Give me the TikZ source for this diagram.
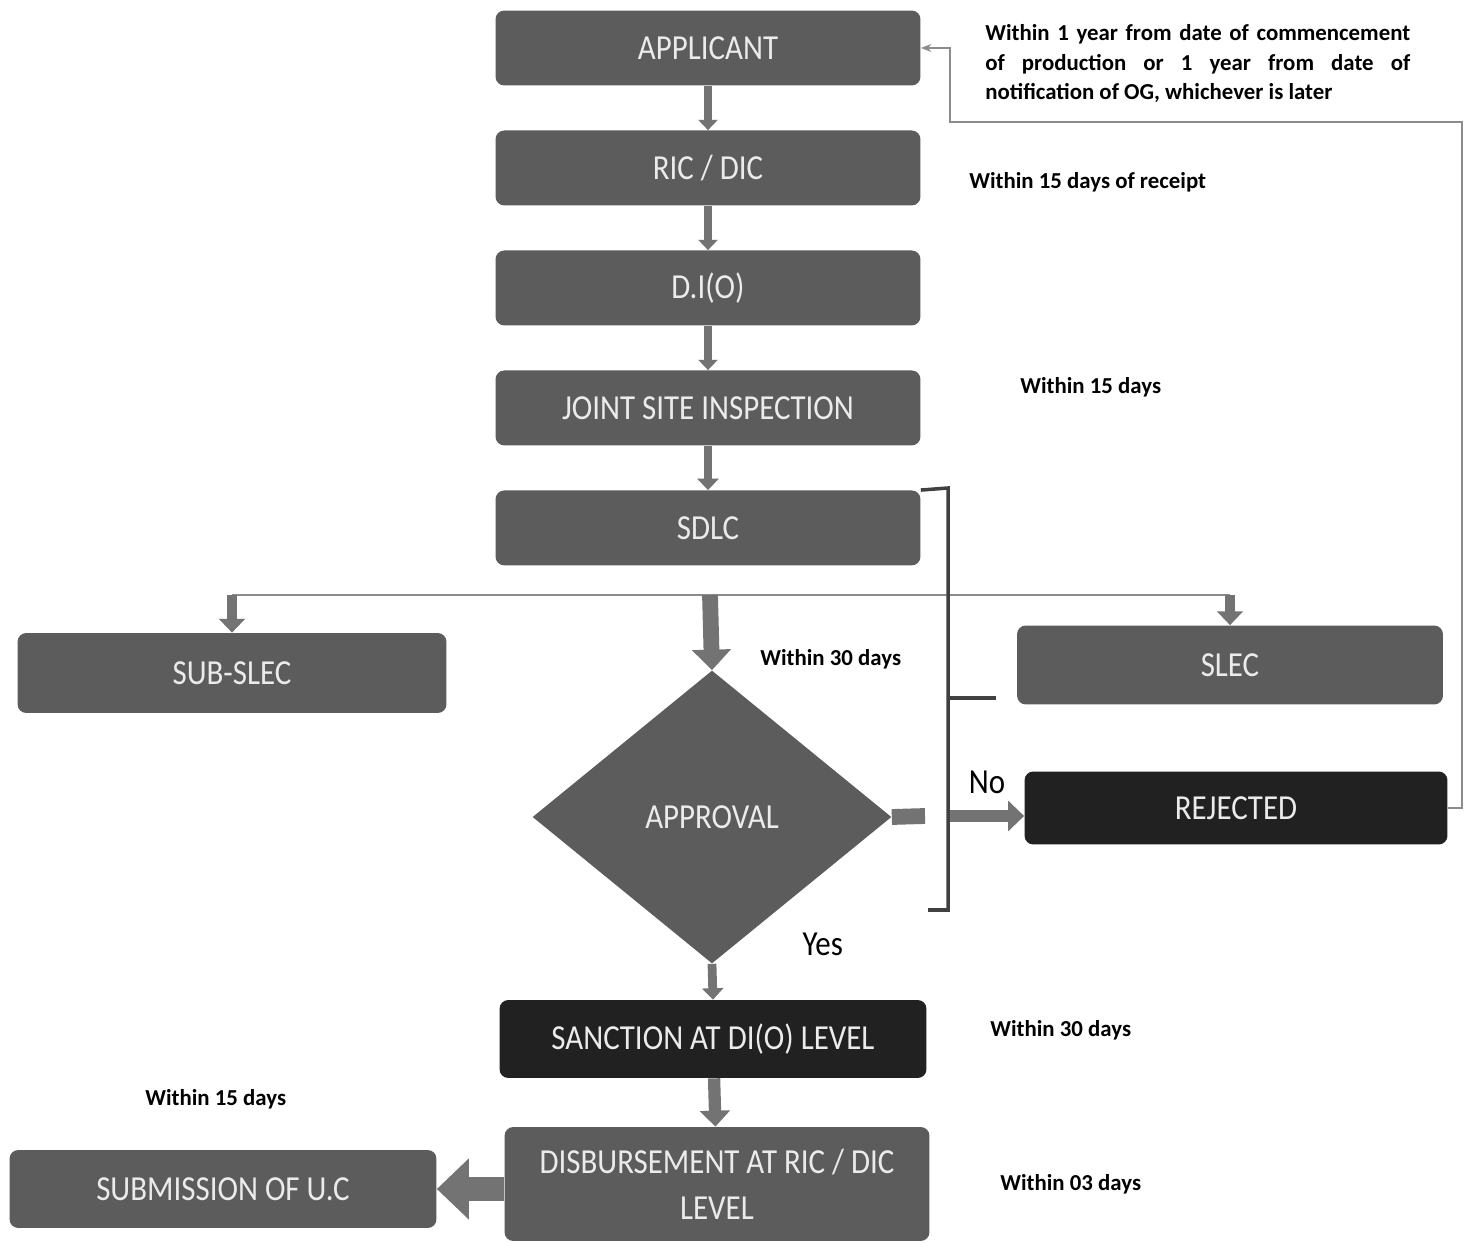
\documentclass[tikz,border=0pt]{standalone}
\usepackage{fontspec}
\setmainfont{Carlito}
\newfontfamily\boxfont{Carlito}[FakeStretch=0.88]
\usepackage{tikz}
\usetikzlibrary{shapes,arrows.meta,positioning,calc}
\definecolor{boxgray}{gray}{0.36}
\definecolor{darkbox}{gray}{0.13}
\definecolor{arrowgray}{gray}{0.45}
\definecolor{linegray}{gray}{0.55}
\definecolor{labelwhite}{gray}{0.92}

\begin{document}
\begin{tikzpicture}[x=0.02cm, y=-0.02cm, node distance=2.4cm,
  stage/.style={rectangle, fill=boxgray, text=labelwhite, minimum width=8.5cm, minimum height=1.5cm, rounded corners=5pt, align=center, font=\boxfont\fontsize{20}{26}\selectfont},
  note/.style={anchor=west, inner sep=0pt, font=\bfseries\fontsize{13}{16.8}\selectfont},
  flow/.style={draw=arrowgray, line width=#1, -{Triangle[length=0pt 1.3, width=0pt 2.4]}},
  thinline/.style={draw=linegray, line width=1pt},
  bracketline/.style={draw=black!75, line width=2pt}]
\useasboundingbox (0,0) rectangle (1468,1243);
% main column
\node[stage] (app) at (708,48) {APPLICANT};
\node[stage, below of=app] (ric) {RIC / DIC};
\node[stage, below of=ric] (dio) {D.I(O)};
\node[stage, below of=dio] (jsi) {JOINT SITE INSPECTION};
\node[stage, below of=jsi] (sdlc) {SDLC};
\node[diamond, fill=boxgray, text=labelwhite, minimum width=7.18cm, minimum height=5.86cm, inner sep=0pt, font=\boxfont\fontsize{20}{24}\selectfont] (appr) at (712,817) {APPROVAL};
\node[stage, fill=darkbox, minimum width=8.54cm, minimum height=1.56cm] (sanc) at (713,1039) {SANCTION AT DI(O) LEVEL};
\node[stage, minimum height=2.28cm] (disb) at (717,1184) {DISBURSEMENT AT RIC / DIC\\LEVEL};
% side boxes
\node[stage, minimum width=8.58cm, minimum height=1.6cm] (subslec) at (232,673) {SUB-SLEC};
\node[stage, minimum width=8.52cm, minimum height=1.58cm] (slec) at (1230,665) {SLEC};
\node[stage, fill=darkbox, minimum width=8.46cm, minimum height=1.46cm] (rej) at (1236,808) {REJECTED};
\node[stage, minimum width=8.54cm, minimum height=1.56cm] (suc) at (223,1189) {SUBMISSION OF U.C};
% time notes
\node[note, text width=8.5cm, align=justify] (n1) at (985,64) {Within 1 year from date of commencement\linebreak of production or 1 year from date of\linebreak notification of OG, whichever is later};
\node[note] (n2) at (969,182) {Within 15 days of receipt};
\node[note] (n3) at (1020,387) {Within 15 days};
\node[note] (n4) at (760,659) {Within 30 days};
\node[note] (n5) at (990,1030) {Within 30 days};
\node[note] (n6) at (1000,1184) {Within 03 days};
\node[note] (n7) at (145,1099) {Within 15 days};
% helper points
\coordinate (fork) at (710,595);
\coordinate (brtop) at (948,488);
\coordinate (brbot) at (948,910);
\coordinate (brend) at (928,910);
\coordinate (slectick) at (996,698);
\coordinate (nostub) at (925,816);
\coordinate (nostart) at (950,816);
\coordinate (backr) at (1462,122);
\coordinate (backl) at (950,122);
% connectors
\draw[flow=4.5pt] (app) -- (ric);
\draw[flow=4.5pt] (ric) -- (dio);
\draw[flow=4.5pt] (dio) -- (jsi);
\draw[flow=5pt] (jsi) -- (sdlc);
\draw[thinline] (subslec.north |- fork) -- (slec.north |- fork);
\draw[flow=6pt] (subslec.north |- fork) -- (subslec.north);
\draw[flow=6pt] (slec.north |- fork) -- (slec.north);
\draw[flow=9pt] (fork) -- (appr.north);
\draw[bracketline] (sdlc.north east) -- (brtop) -- (brbot) -- (brend);
\draw[bracketline] (brtop |- slectick) -- (slectick);
\draw[draw=arrowgray, line width=9pt] (appr.east) -- (nostub);
\draw[flow=7pt] (nostart) -- (rej.west |- nostart) node[pos=0.5, above=6pt, font=\boxfont\fontsize{20}{24}\selectfont] (no) {No};
\draw[flow=5pt] (appr.south) -- node[pos=-0.55, right=46pt, font=\boxfont\fontsize{20}{24}\selectfont] (yes) {Yes} (sanc.north);
\draw[flow=7pt] (sanc) -- (disb);
\draw[flow=14pt] (disb.west |- suc.east) -- (suc.east);
\draw[thinline, -{Stealth[length=6pt]}] (rej.east) -| (backr) -- (backl) |- (app.east);
\end{tikzpicture}
\end{document}
